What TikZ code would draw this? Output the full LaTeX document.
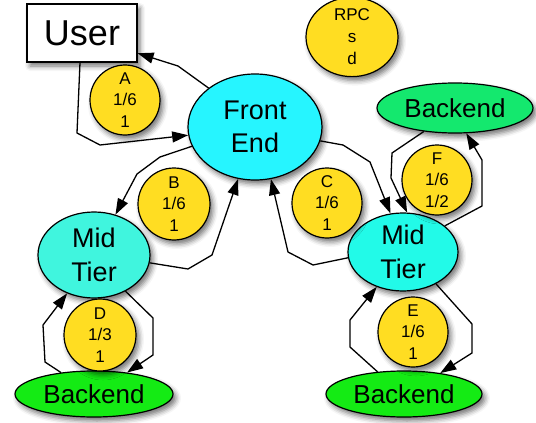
\documentclass[tikz,border=0pt]{standalone}
\usepackage{fontspec}
\setmainfont{Liberation Sans}
\usetikzlibrary{shapes.geometric,arrows.meta,shadows.blur}
\definecolor{cyanFE}{RGB}{38,245,255}
\definecolor{cyanMA}{RGB}{64,245,222}
\definecolor{cyanMB}{RGB}{34,250,232}
\definecolor{greenTop}{RGB}{20,232,110}
\definecolor{greenBot}{RGB}{20,235,20}
\definecolor{gold}{RGB}{255,221,34}
\tikzset{
  shad/.style={blur shadow={shadow xshift=3pt,shadow yshift=-4pt,shadow blur radius=5pt,shadow opacity=55}},
  big/.style={font=\fontsize{27}{33}\selectfont, align=center, inner sep=0pt},
  ell/.style={ellipse, draw, line width=1.2pt, shad, big},
  token/.style={circle, draw, line width=1.2pt, fill=gold, shad, minimum size=70pt, inner sep=0pt,
     align=center, font=\fontsize{17}{21.5}\selectfont},
  conn/.style={draw, line width=1.3pt, -{Triangle[length=16pt,width=11pt]}},
}
\begin{document}
\begin{tikzpicture}[x=1pt,y=-1pt]
\useasboundingbox (0,0) rectangle (536,423);
% nodes
\node[draw, line width=1.2pt, fill=white, shad, minimum width=110pt, minimum height=58pt,
      inner sep=0pt, font=\fontsize{36}{40}\selectfont] (user) at (82,33) {User};
\node[ell, fill=cyanFE, minimum width=134pt, minimum height=106pt] (fe) at (255,127) {Front\\End};
\node[ell, fill=gold, minimum width=92pt, minimum height=68pt, font=\fontsize{17}{22}\selectfont] (rpc) at (352,37) {RPC\\s\\d};
\node[ell, fill=greenTop, minimum width=156pt, minimum height=50pt, font=\fontsize{26}{30}\selectfont] (bk1) at (455,108) {Backend};
\node[ell, fill=cyanMA, minimum width=112pt, minimum height=86pt, font=\fontsize{27}{34}\selectfont] (mt1) at (94,255) {Mid\\Tier};
\node[ell, fill=greenBot, minimum width=158pt, minimum height=46pt, font=\fontsize{26}{30}\selectfont] (bk2) at (94,394) {Backend};
\node[ell, fill=cyanMB, minimum width=110pt, minimum height=78pt, font=\fontsize{27}{34}\selectfont] (mt2) at (403,252) {Mid\\Tier};
\node[ell, fill=greenBot, minimum width=156pt, minimum height=46pt, font=\fontsize{26}{30}\selectfont] (bk3) at (404,394) {Backend};
\node[token] (ta) at (125,100) {A\\1/6\\1};
\node[token, minimum size=72pt] (tb) at (174,204) {B\\1/6\\1};
\node[token] (tc) at (327,203) {C\\1/6\\1};
\node[token] (tf) at (437,180) {F\\1/6\\1/2};
\node[token, minimum size=72pt] (td) at (100,335) {D\\1/3\\1};
\node[token] (te) at (413,332) {E\\1/6\\1};
% connectors
\path[conn] ([xshift=-2pt]user.south) -- (77,133) -- (100,145) -- (fe.187);
\path[conn] (fe.140) -- (178,66) -- (user.-20);
\path[conn] (fe.197) -- (160,157) -- (137,174) -- (mt1.62);
\path[conn] (mt1.352) -- (188,269) -- (212,255) -- (fe.252);
\path[conn] (mt2.186) -- (313,265) -- (288,252) -- (fe.287);
\path[conn] (fe.348) -- (343,145) -- (370,162) -- (mt2.108);
\path[conn] (bk1.217) -- (392,153) -- (391,178) -- (mt2.84);
\path[conn] (mt2.32) -- (482,206) -- (482,160) -- (bk1.294);
\path[conn] (mt1.311) -- (153,318) -- (153,355) -- (bk2.33);
\path[conn] (bk2.147) -- (45,362) -- (43,325) -- (mt1.235);
\path[conn] (mt2.316) -- (472,324) -- (472,353) -- (bk3.30);
\path[conn] (bk3.140) -- (350,347) -- (350,320) -- (mt2.233);
\end{tikzpicture}
\end{document}
